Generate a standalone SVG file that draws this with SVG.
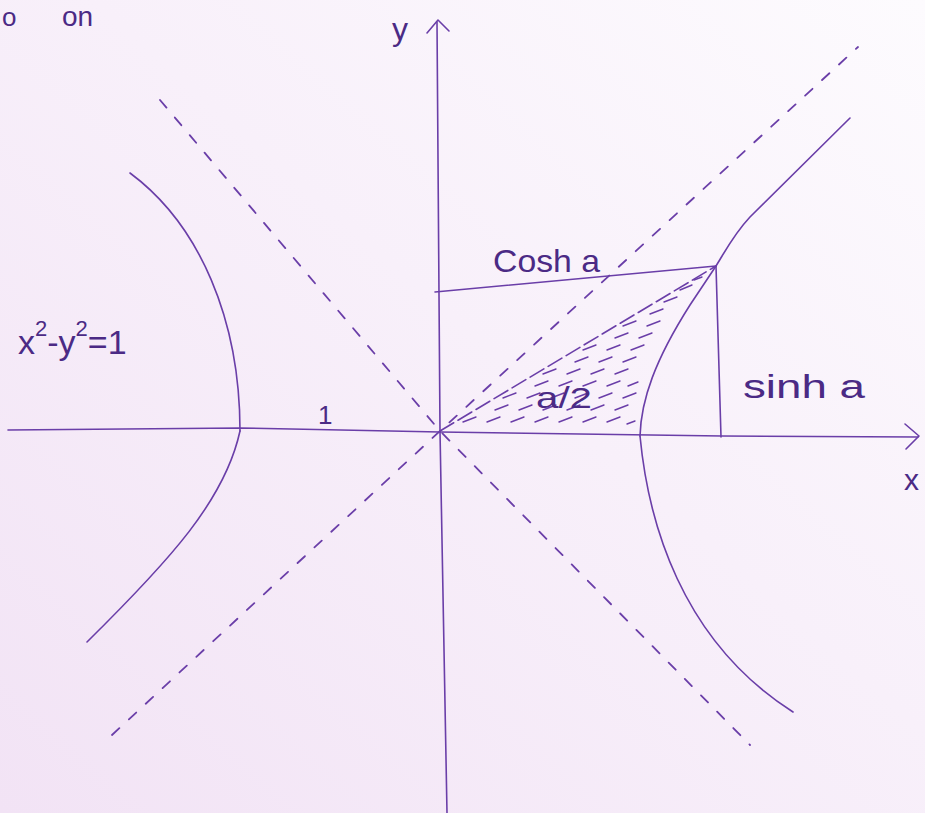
<svg xmlns="http://www.w3.org/2000/svg" width="925" height="813" viewBox="0 0 925 813">
  <defs>
    <linearGradient id="bg" x1="1" y1="0" x2="0" y2="1">
      <stop offset="0" stop-color="#fdfbfe"/>
      <stop offset="0.45" stop-color="#f8f0fa"/>
      <stop offset="1" stop-color="#f2e3f5"/>
    </linearGradient>
    <style>
      .ln { fill: none; stroke: #6a3ea8; stroke-width: 1.6; stroke-linecap: round; stroke-linejoin: round; }
      .dash { fill: none; stroke: #6a3ea8; stroke-width: 1.8; stroke-linecap: round; stroke-dasharray: 10 13; }
      .hatch { fill: none; stroke: #6a3ea8; stroke-width: 1.4; stroke-linecap: round; }
      .lbl { font-family: "Liberation Sans", "DejaVu Sans", sans-serif; fill: #4b2a85; }
    </style>
  </defs>
  <rect width="925" height="813" fill="url(#bg)"/>

  <g id="connectors">
    <path id="x-axis" class="ln" d="M 8 430 L 240 428 L 440 432 L 722 436 L 918 437"/>
    <path id="x-arrow" class="ln" d="M 905 424 L 919 436 L 906 449"/>
    <path id="y-axis" class="ln" d="M 447 813 L 440 431 L 437 22"/>
    <path id="y-arrow" class="ln" d="M 427 33 L 438 20 L 449 31"/>
    <path id="asymptote-1" class="dash" d="M 160 100 L 440 431 L 750 745"/>
    <path id="asymptote-2" class="dash" d="M 112 735 L 440 431 L 858 47"/>
    <path id="cosh-line" class="ln" d="M 435 292 L 716 266"/>
    <path id="sinh-line" class="ln" d="M 716 266 L 721 437"/>
    <path id="op-line" class="ln" stroke-dasharray="16 5" d="M 440 431 L 716 266"/>
  </g>

  <g id="hyperbola-right">
    <path class="ln" d="M 640 436 C 641 400, 655 360, 690 305 C 700 290, 708 278, 716 266 C 726 250, 734 234, 750 217 L 850 118"/>
    <path class="ln" d="M 640 436 C 648 520, 680 640, 793 712"/>
  </g>
  <g id="hyperbola-left">
    <path class="ln" d="M 130 173 C 200 225, 240 320, 240 431"/>
    <path class="ln" d="M 240 431 C 225 500, 170 560, 87 642"/>
  </g>

  <g id="shaded-area">
    <path class="hatch" d="
      M 463 422 l 13 -5 M 487 422 l 13 -5 M 511 422 l 13 -5 M 535 422 l 13 -5 M 559 422 l 13 -5 M 583 422 l 13 -5 M 607 422 l 13 -5 M 627 424 l 8 -3
      M 495 410 l 13 -5 M 519 410 l 13 -5 M 543 410 l 13 -5 M 567 410 l 13 -5 M 591 410 l 13 -5 M 615 410 l 13 -5
      M 503 398 l 13 -5 M 527 398 l 13 -5 M 551 398 l 13 -5 M 575 398 l 13 -5 M 599 398 l 13 -5 M 623 398 l 13 -5
      M 535 386 l 13 -5 M 559 386 l 13 -5 M 583 386 l 13 -5 M 607 386 l 13 -5 M 628 386 l 10 -4
      M 543 374 l 13 -5 M 567 374 l 13 -5 M 591 374 l 13 -5 M 615 374 l 13 -5
      M 575 362 l 13 -5 M 599 362 l 13 -5 M 623 362 l 13 -5
      M 583 350 l 13 -5 M 607 350 l 13 -5 M 631 350 l 13 -5
      M 615 338 l 13 -5 M 639 338 l 13 -5
      M 623 326 l 13 -5 M 647 326 l 13 -5
      M 650 314 l 13 -5
      M 664 302 l 13 -5
      M 680 290 l 12 -5
      M 694 280 l 8 -3"/>
  </g>

  <g id="labels">
    <text class="lbl" x="2" y="26" font-size="26">o</text>
    <text class="lbl" x="62" y="26" font-size="28">on</text>
    <text class="lbl" x="392" y="40" font-size="32">y</text>
    <text class="lbl" x="904" y="490" font-size="30">x</text>
    <text class="lbl" x="493" y="272" font-size="32" textLength="107" lengthAdjust="spacingAndGlyphs">Cosh a</text>
    <text class="lbl" x="743" y="398" font-size="34" textLength="122" lengthAdjust="spacingAndGlyphs">sinh a</text>
    <text class="lbl" x="536" y="408" font-size="30" textLength="56" lengthAdjust="spacingAndGlyphs">a/2</text>
    <text class="lbl" x="318" y="424" font-size="26">1</text>
    <text class="lbl" x="18" y="354" font-size="34">x<tspan font-size="22" dy="-18">2</tspan><tspan dy="18">-y</tspan><tspan font-size="22" dy="-18">2</tspan><tspan dy="18">=1</tspan></text>
  </g>
</svg>
